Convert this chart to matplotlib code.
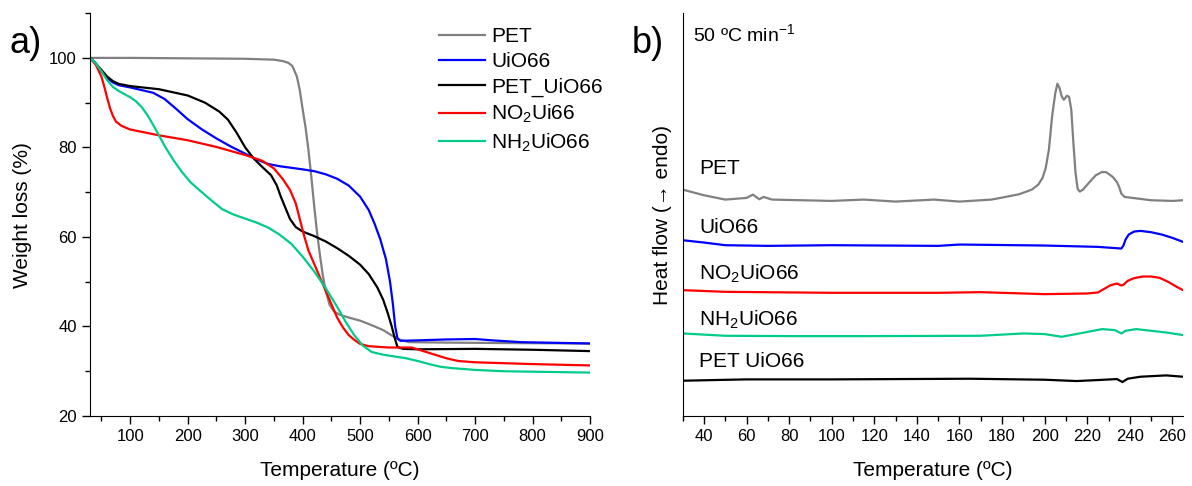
import matplotlib
matplotlib.use("Agg")
import matplotlib.pyplot as plt
from matplotlib.ticker import MultipleLocator

plt.rcParams['font.family'] = ['Liberation Sans', 'DejaVu Sans']
plt.rcParams['mathtext.fontset'] = 'custom'
plt.rcParams['mathtext.rm'] = 'Liberation Sans'
plt.rcParams['mathtext.default'] = 'regular'

# --- TGA data (panel a) ---
pet_t = [30, 100, 200, 300, 350, 365, 375, 382, 390, 395, 400, 405, 410, 415, 420, 425, 430, 435, 440, 447, 455, 465, 480, 500, 520, 540, 555, 570, 585, 650, 750, 900]
pet_w = [100, 100, 99.9, 99.8, 99.6, 99.3, 98.9, 98.2, 95.8, 92.8, 88.5, 84.5, 79.5, 73.5, 67, 61, 56, 51.5, 48, 44.8, 43.3, 42.6, 42, 41.3, 40.3, 39.2, 38, 37, 36.5, 36.4, 36.3, 36.2]

uio_t = [30, 40, 50, 60, 70, 80, 100, 120, 140, 160, 180, 200, 225, 250, 275, 300, 320, 340, 360, 400, 420, 440, 460, 480, 500, 515, 525, 535, 545, 552, 557, 561, 565, 570, 600, 650, 700, 730, 780, 900]
uio_w = [100, 98.8, 97, 95.5, 94.5, 93.9, 93.4, 92.8, 92.2, 90.8, 88.6, 86.3, 84, 82, 80.2, 78.6, 77.3, 76.3, 75.8, 75.1, 74.7, 74, 73, 71.5, 69, 66, 63, 59.5, 55, 50, 45, 40, 37.3, 36.8, 36.9, 37.1, 37.2, 36.9, 36.5, 36.2]

petuio_t = [30, 40, 50, 60, 70, 80, 100, 150, 200, 230, 255, 270, 285, 300, 315, 330, 345, 355, 362, 370, 378, 388, 400, 420, 440, 460, 480, 500, 515, 530, 540, 548, 555, 560, 565, 575, 600, 700, 800, 900]
petuio_w = [100, 98.7, 97.3, 95.8, 94.8, 94.2, 93.7, 93, 91.6, 90, 88, 86.2, 83.3, 80, 77.5, 75.6, 73.8, 71.5, 69, 66.5, 64, 62.2, 61.2, 60.2, 59, 57.5, 55.8, 53.8, 51.7, 48.7, 46, 43, 40, 37.5, 35.4, 35, 34.9, 35, 34.8, 34.5]

no2_t = [30, 40, 50, 55, 60, 65, 70, 75, 85, 100, 150, 200, 250, 300, 330, 350, 365, 378, 388, 396, 402, 410, 420, 430, 440, 450, 460, 470, 480, 490, 500, 515, 550, 590, 610, 630, 650, 670, 700, 800, 900]
no2_w = [100, 98.5, 95.8, 93.5, 91, 88.7, 87, 85.8, 84.8, 84, 82.7, 81.6, 80.1, 78.3, 77, 75.3, 73, 70.5, 67.5, 63.5, 60.5, 57, 54, 51, 48, 45, 42, 39.8, 38.1, 37, 36.1, 35.6, 35.3, 35.3, 34.5, 33.7, 32.9, 32.3, 32, 31.6, 31.3]

nh2_t = [30, 40, 50, 60, 70, 80, 100, 110, 120, 130, 140, 150, 160, 175, 190, 205, 220, 240, 260, 280, 300, 320, 340, 360, 380, 400, 420, 440, 460, 475, 490, 505, 520, 540, 560, 580, 600, 620, 640, 660, 700, 750, 900]
nh2_w = [100, 98.8, 97, 95, 93.5, 92.6, 91.2, 90.3, 89, 87.2, 85, 82.7, 80.3, 77.2, 74.5, 72.2, 70.5, 68.3, 66.2, 65, 64.1, 63.2, 62.1, 60.5, 58.5, 55.6, 52.3, 48.6, 44.4, 41, 38, 35.7, 34.3, 33.7, 33.3, 32.9, 32.3, 31.6, 31, 30.7, 30.3, 30, 29.7]

# --- DSC data (panel b), arbitrary units ---
dsc_pet_t = [30, 40, 50, 60, 63, 66, 68, 72, 100, 115, 130, 148, 160, 175, 180, 188, 194, 197, 199, 200.5, 202, 203.5, 205, 206, 207, 208, 209, 210.5, 211.5, 212.5, 213.5, 214.5, 215.5, 216.5, 218, 221, 224, 227, 229, 232, 234, 235, 236, 237.5, 240, 250, 260, 265]
dsc_pet_h = [68, 66.3, 65, 65.5, 66.5, 65.1, 65.8, 65, 64.6, 65, 64.4, 65, 64.4, 65, 65.6, 66.6, 68, 69.5, 71.5, 74.5, 80, 90, 97, 99.8, 98.5, 96, 95, 96.2, 95.8, 92, 82, 73, 68.2, 67.4, 68, 70.2, 72.3, 73.3, 73.2, 71.8, 70.2, 68.8, 66.8, 65.8, 65.6, 64.8, 64.6, 64.8]

dsc_uio_t = [30, 40, 50, 70, 100, 150, 160, 200, 225, 236, 237, 238, 239.5, 242, 245, 250, 255, 260, 265]
dsc_uio_h = [52.8, 52.1, 51.3, 51.1, 51.3, 51.1, 51.5, 51.2, 50.8, 50.3, 51.2, 53, 54.5, 55.4, 55.6, 55.2, 54.5, 53.5, 52.3]

dsc_no2_t = [30, 50, 100, 150, 170, 200, 220, 225, 228, 231, 234, 236, 237, 239, 242, 246, 250, 254, 258, 262, 265]
dsc_no2_h = [37.8, 37.3, 37, 37, 37.2, 36.6, 36.8, 37.1, 38.2, 39.3, 39.8, 39.2, 39.4, 40.6, 41.4, 41.9, 41.9, 41.5, 40.3, 38.8, 37.8]

dsc_nh2_t = [30, 50, 80, 120, 170, 190, 200, 208, 218, 227, 233, 236, 238, 243, 250, 258, 265]
dsc_nh2_h = [24.8, 24.1, 24, 24, 24.1, 24.8, 24.6, 23.8, 25, 26.1, 25.8, 24.8, 25.6, 26.1, 25.6, 25, 24.3]

dsc_petuio_t = [30, 60, 100, 165, 200, 215, 225, 234, 236.5, 239, 245, 257, 265]
dsc_petuio_h = [10.6, 11, 11, 11.2, 10.9, 10.5, 10.8, 11.1, 10.2, 11.2, 11.8, 12.2, 11.8]

c_gray = '#808080'
c_blue = '#0000ff'
c_black = '#000000'
c_red = '#ff0000'
c_green = '#00cc88'

fig = plt.figure(figsize=(11.92, 4.86), dpi=100)
ax1 = fig.add_axes([0.0755, 0.144, 0.4195, 0.829])
ax2 = fig.add_axes([0.5727, 0.144, 0.4198, 0.829])

lw = 1.6
ax1.plot(pet_t, pet_w, color=c_gray, lw=lw, label='PET')
ax1.plot(uio_t, uio_w, color=c_blue, lw=lw, label='UiO66')
ax1.plot(petuio_t, petuio_w, color=c_black, lw=lw, label='PET_UiO66')
ax1.plot(no2_t, no2_w, color=c_red, lw=lw, label=r'NO$_2$Ui66')
ax1.plot(nh2_t, nh2_w, color=c_green, lw=lw, label=r'NH$_2$UiO66')

ax1.set_xlim(30, 900)
ax1.set_ylim(20, 110)
ax1.set_yticks([20, 40, 60, 80, 100])
ax1.set_xticks([100, 200, 300, 400, 500, 600, 700, 800, 900])
ax1.xaxis.set_minor_locator(MultipleLocator(50))
ax1.yaxis.set_minor_locator(MultipleLocator(10))
ax1.set_xlabel('Temperature (ºC)', fontsize=15, labelpad=12)
ax1.set_ylabel('Weight loss (%)', fontsize=15, labelpad=12)
ax1.legend(loc='upper left', bbox_to_anchor=(0.698, 0.966), frameon=False,
           fontsize=15, handlelength=2.2, borderaxespad=0, borderpad=0,
           labelspacing=0.3, handletextpad=0.3)

for ax in (ax1, ax2):
    ax.spines['top'].set_visible(False)
    ax.spines['right'].set_visible(False)
    ax.tick_params(which='both', direction='out', labelsize=12, width=1)
    ax.tick_params(which='major', length=6)
    ax.tick_params(which='minor', length=3.5)

ax2.plot(dsc_pet_t, dsc_pet_h, color=c_gray, lw=lw)
ax2.plot(dsc_uio_t, dsc_uio_h, color=c_blue, lw=lw)
ax2.plot(dsc_no2_t, dsc_no2_h, color=c_red, lw=lw)
ax2.plot(dsc_nh2_t, dsc_nh2_h, color=c_green, lw=lw)
ax2.plot(dsc_petuio_t, dsc_petuio_h, color=c_black, lw=lw)

ax2.set_xlim(30, 265)
ax2.set_ylim(0, 121)
ax2.set_xticks(range(40, 261, 20))
ax2.xaxis.set_minor_locator(MultipleLocator(10))
ax2.set_yticks([])
ax2.set_xlabel('Temperature (ºC)', fontsize=15, labelpad=12)
ax2.set_ylabel('Heat flow (→ endo)', fontsize=15, labelpad=8)

labels = ['PET', 'UiO66', r'NO$_2$UiO66', r'NH$_2$UiO66', 'PET UiO66']
label_y = [74.3, 56.5, 42.8, 28.8, 16.3]
for txt, yy in zip(labels, label_y):
    ax2.text(37.8, yy, txt, fontsize=15, va='center', ha='left')

ax2.text(0.021, 0.949, r'50 ºC min$^{-1}$', transform=ax2.transAxes,
         fontsize=14, va='center', ha='left')

fig.text(0.008, 0.91, 'a)', fontsize=26, va='center', ha='left')
fig.text(0.530, 0.91, 'b)', fontsize=26, va='center', ha='left')

fig.savefig('out.png', dpi=100)
